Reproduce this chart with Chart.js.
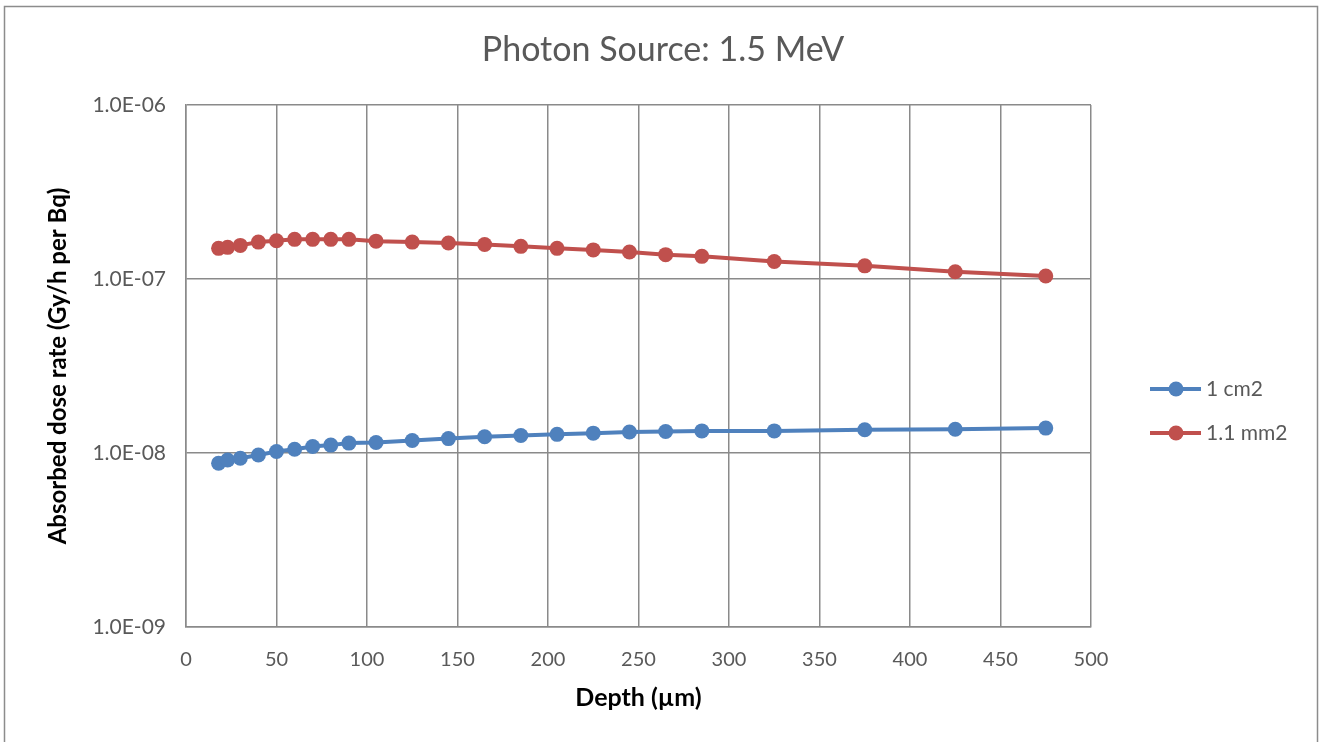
<!DOCTYPE html>
<html>
<head>
<meta charset="utf-8">
<script src="https://cdn.jsdelivr.net/npm/chart.js@4/dist/chart.umd.min.js"></script>
<style>
  html, body { margin: 0; padding: 0; background: #fff; }
  #wrap { position: absolute; left: 0; top: 0; width: 1322px; height: 742px; }
</style>
</head>
<body>
<div id="wrap"><canvas id="dose-chart"></canvas></div>
<script>
var depth = [18, 23, 30, 40, 50, 60, 70, 80, 90, 105, 125, 145, 165, 185, 205, 225, 245, 265, 285, 325, 375, 425, 475];
var cm2 = [8.73e-9, 9.12e-9, 9.33e-9, 9.74e-9, 1.02e-8, 1.05e-8, 1.09e-8, 1.11e-8, 1.14e-8, 1.15e-8, 1.18e-8, 1.21e-8, 1.24e-8, 1.26e-8, 1.28e-8, 1.30e-8, 1.32e-8, 1.33e-8, 1.34e-8, 1.34e-8, 1.36e-8, 1.37e-8, 1.39e-8];
var mm2 = [1.50e-7, 1.52e-7, 1.56e-7, 1.63e-7, 1.66e-7, 1.69e-7, 1.69e-7, 1.69e-7, 1.69e-7, 1.65e-7, 1.63e-7, 1.61e-7, 1.58e-7, 1.54e-7, 1.50e-7, 1.47e-7, 1.43e-7, 1.38e-7, 1.35e-7, 1.26e-7, 1.19e-7, 1.10e-7, 1.04e-7];
var seriesNames = ["1 cm2", "1.1 mm2"];
var yTicks = [1e-9, 1e-8, 1e-7, 1e-6];
var chartTitle = "Photon Source: 1.5 MeV";

var blue = "#4F81BD";
var red = "#C0504D";
var textGray = "#595959";
var gridGray = "#8a8a8a";
var fontFam = "Lato, 'Open Sans', sans-serif";

function pts(ys) {
  return depth.map(function (d, i) { return { x: d, y: ys[i] }; });
}

function sciLabel(v) {
  var parts = v.toExponential(1).split("e");
  var exp = parseInt(parts[1], 10);
  var sign = exp < 0 ? "-" : "+";
  var e = Math.abs(exp);
  return parts[0] + "E" + sign + (e < 10 ? "0" + e : e);
}

// frame, centred title and legend like the spreadsheet chart
const framePlugin = {
  id: "frame",
  beforeDraw(chart) {
    const c = chart.ctx;
    c.save();
    c.fillStyle = "#fff";
    c.fillRect(0, 0, chart.width, chart.height);
    c.strokeStyle = "#8c8c8c";
    c.lineWidth = 1.5;
    c.strokeRect(4.5, 6.5, 1313, 760);
    c.restore();
  },
  afterDraw(chart) {
    const c = chart.ctx;
    c.save();
    c.fillStyle = textGray;
    c.font = "34px " + fontFam;
    c.textAlign = "center";
    c.textBaseline = "middle";
    c.fillText(chartTitle, 663, 50);

    const colors = [blue, red];
    const rows = [389, 433];
    seriesNames.forEach(function (name, i) {
      c.strokeStyle = colors[i];
      c.fillStyle = colors[i];
      c.lineWidth = 4;
      c.beginPath();
      c.moveTo(1150, rows[i]);
      c.lineTo(1201, rows[i]);
      c.stroke();
      c.beginPath();
      c.arc(1176, rows[i], 7.5, 0, Math.PI * 2);
      c.fill();
      c.fillStyle = textGray;
      c.font = "21px " + fontFam;
      c.textBaseline = "middle";
      c.textAlign = "left";
      c.fillText(name, 1206, rows[i]);
    });
    c.restore();
  },
};

const ctx = document.getElementById("dose-chart");

new Chart(ctx, {
  type: "line",
  data: {
    datasets: [
      {
        label: seriesNames[0],
        data: pts(cm2),
        borderColor: blue,
        backgroundColor: blue,
        borderWidth: 4,
        pointRadius: 7.5,
        pointHoverRadius: 7.5,
        pointBorderWidth: 0,
      },
      {
        label: seriesNames[1],
        data: pts(mm2),
        borderColor: red,
        backgroundColor: red,
        borderWidth: 4,
        pointRadius: 7.5,
        pointHoverRadius: 7.5,
        pointBorderWidth: 0,
      },
    ],
  },
  plugins: [framePlugin],
  options: {
    responsive: true,
    maintainAspectRatio: false,
    animation: false,
    layout: { padding: { left: 0, right: 231, top: 105, bottom: 0 } },
    plugins: {
      legend: { display: false },
      tooltip: { enabled: false },
      title: { display: false },
    },
    scales: {
      x: {
        type: "linear",
        min: 0,
        max: 500,
        afterFit: function (s) { s.height = 115; },
        ticks: {
          stepSize: 50,
          padding: 21,
          color: textGray,
          font: { size: 20, family: fontFam },
        },
        grid: { color: gridGray, lineWidth: 1.5, drawTicks: false },
        border: { color: gridGray, width: 1.5 },
        title: {
          display: true,
          text: "Depth (µm)",
          color: "#000",
          font: { size: 25, family: fontFam, weight: "bold" },
          padding: { top: 0, bottom: 29 },
        },
      },
      y: {
        type: "logarithmic",
        min: 1e-9,
        max: 1e-6,
        afterFit: function (s) { s.width = 186; },
        afterBuildTicks: function (s) {
          s.ticks = yTicks.map(function (v) { return { value: v }; });
        },
        ticks: {
          padding: 20,
          color: textGray,
          font: { size: 21, family: fontFam },
          callback: function (v) { return sciLabel(v); },
        },
        grid: { color: gridGray, lineWidth: 1.5, drawTicks: false },
        border: { color: gridGray, width: 1.5 },
        title: {
          display: true,
          text: "Absorbed dose rate (Gy/h per Bq)",
          color: "#000",
          font: { size: 24, family: fontFam, weight: "bold" },
          padding: { top: 44, bottom: 0 },
        },
      },
    },
  },
});
</script>
</body>
</html>
